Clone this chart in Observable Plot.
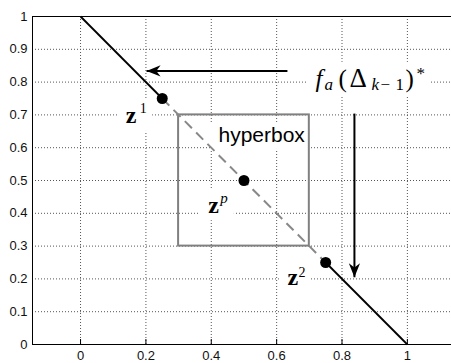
<!DOCTYPE html>
<html>
<head>
<meta charset="utf-8">
<script src="https://cdn.jsdelivr.net/npm/d3@7"></script>
<script src="https://cdn.jsdelivr.net/npm/@observablehq/plot@0.6"></script>
<style>
  body { margin: 0; background: #fff; }
  svg { display: block; }
</style>
</head>
<body>
<script>
// Axis ticks and visible domain
const xTicks = [0, 0.2, 0.4, 0.6, 0.8, 1];
const yTicks = [0, 0.1, 0.2, 0.3, 0.4, 0.5, 0.6, 0.7, 0.8, 0.9, 1];
const xDomain = [-0.147, 1.135];
const yDomain = [0, 1];

// Linear front f1 + f2 = 1: vertices of the solid and dashed pieces
const frontX = [0, 0.25, 0.75, 1];
const frontY = [1, 0.75, 0.25, 0];

// Anchor points z^1, z^p, z^2
const pointNames = ["z1", "zp", "z2"];
const pointX = [0.25, 0.5, 0.75];
const pointY = [0.75, 0.5, 0.25];

// Hyperbox around z^p
const boxX = [0.3, 0.7];
const boxY = [0.3, 0.7];
const boxText = "hyperbox";
const boxTextX = 0.422;
const boxTextY = 0.616;

// Arrows (tail -> head)
const arrowX1 = [0.633, 0.838];
const arrowY1 = [0.834, 0.704];
const arrowX2 = [0.202, 0.838];
const arrowY2 = [0.834, 0.205];

// Math labels (baseline-left anchor)
const labelKeys = ["z1", "zp", "z2", "fa"];
const labelX = [0.138, 0.391, 0.633, 0.719];
const labelY = [0.674, 0.402, 0.180, 0.784];

// Typeset pieces for each math label: offsets in px from the anchor
const mathPieces = {
  z1: [{t: "z", x: 0, y: 0, size: 24, bold: true}, {t: "1", x: 14, y: -10, size: 14}],
  zp: [{t: "z", x: 0, y: 0, size: 24, bold: true}, {t: "p", x: 12, y: -9.5, size: 15, italic: true}],
  z2: [{t: "z", x: 0, y: 0, size: 24, bold: true}, {t: "2", x: 11, y: -8, size: 14}],
  fa: [
    {t: "f", x: 0, y: 0, size: 25, italic: true},
    {t: "a", x: 9, y: 3, size: 17, italic: true},
    {t: "(", x: 23, y: 0, size: 25},
    {t: "\u0394", x: 34, y: 0, size: 27},
    {t: "k", x: 56, y: 3, size: 17, italic: true},
    {t: "\u2212", x: 65, y: 3, size: 17},
    {t: "1", x: 80, y: 3, size: 17},
    {t: ")", x: 90, y: 0, size: 25},
    {t: "*", x: 101, y: -8, size: 17}
  ]
};

// Derived tables
const solidSegments = [
  {x1: frontX[0], y1: frontY[0], x2: frontX[1], y2: frontY[1]},
  {x1: frontX[2], y1: frontY[2], x2: frontX[3], y2: frontY[3]}
];
const dashedSegments = [{x1: frontX[1], y1: frontY[1], x2: frontX[2], y2: frontY[2]}];
const points = pointNames.map((name, i) => ({name, x: pointX[i], y: pointY[i]}));
const arrows = arrowX1.map((x1, i) => ({
  x1, y1: arrowY1[i], x2: arrowX2[i], y2: arrowY2[i],
  angle: Math.atan2(arrowX2[i] - x1, arrowY2[i] - arrowY1[i]) * 180 / Math.PI
}));
const labels = labelKeys.map((key, i) => ({key, x: labelX[i], y: labelY[i]}));
const box = [{x1: boxX[0], x2: boxX[1], y1: boxY[0], y2: boxY[1]}];

// Filled, notched arrowhead with its tip at the origin, pointing up
const arrowHead = {
  draw(context, size) {
    const L = Math.sqrt(size / Math.PI);
    const w = L * 0.4, n = L * 0.7;
    context.moveTo(0, 0);
    context.lineTo(w, L);
    context.lineTo(0, n);
    context.lineTo(-w, L);
    context.closePath();
  }
};

const gridStyle = {stroke: "#555", strokeWidth: 1, strokeDasharray: "1,2", className: "grid"};

const chart = Plot.plot({
  width: 451,
  height: 363,
  marginLeft: 32,
  marginRight: 0,
  marginTop: 16,
  marginBottom: 19,
  style: {fontFamily: "'Liberation Sans', Arial, sans-serif", fontSize: "13px", color: "#111", background: "#fff"},
  x: {domain: xDomain, label: null},
  y: {domain: yDomain, label: null},
  marks: [
    Plot.ruleX(xTicks, gridStyle),
    Plot.ruleY(yTicks, gridStyle),
    Plot.rect(box, {x1: "x1", x2: "x2", y1: "y1", y2: "y2", fill: "none", stroke: "#808080", strokeWidth: 2}),
    Plot.link(dashedSegments, {x1: "x1", y1: "y1", x2: "x2", y2: "y2", stroke: "#888", strokeWidth: 2, strokeDasharray: "10,6"}),
    Plot.link(solidSegments, {x1: "x1", y1: "y1", x2: "x2", y2: "y2", stroke: "#000", strokeWidth: 1.8}),
    Plot.dot(points, {x: "x", y: "y", r: 5.5, fill: "#000", stroke: "none"}),
    Plot.link(arrows, {x1: "x1", y1: "y1", x2: "x2", y2: "y2", stroke: "#000", strokeWidth: 2}),
    Plot.dot(arrows, {x: "x2", y: "y2", r: 14, symbol: arrowHead, rotate: "angle", fill: "#000", stroke: "none"}),
    Plot.text([boxText], {x: () => boxTextX, y: () => boxTextY, text: d => d, textAnchor: "start", lineAnchor: "bottom",
      fontSize: 21, fill: "#000", className: "lbl"}),
    Plot.text(labels, {x: "x", y: "y", text: "key", textAnchor: "start", lineAnchor: "bottom",
      fontFamily: "'Liberation Serif', 'Times New Roman', serif", fontSize: 24, fill: "#000", className: "math"}),
    Plot.axisX({ticks: xTicks, tickSize: 0, tickPadding: 6, tickFormat: d => String(d), fill: "#111"}),
    Plot.axisY({ticks: yTicks, tickSize: 0, tickPadding: 5, tickFormat: d => String(d), fill: "#111"}),
    Plot.tickX(xTicks, {x: d => d, stroke: "#000", strokeWidth: 1, insetTop: 323, insetBottom: 0}),
    Plot.ruleY([yDomain[0], yDomain[1]], {stroke: "#000", strokeWidth: 1}),
    Plot.ruleX([xDomain[0]], {stroke: "#000", strokeWidth: 1})
  ]
});

document.body.append(chart);

// Typeset the math labels with tspans
const svgns = "http://www.w3.org/2000/svg";
d3.select(chart).selectAll("g.math text").each(function(d, i) {
  const key = labelKeys[typeof d === "number" ? d : i];
  const el = this;
  el.textContent = "";
  el.removeAttribute("y");
  for (const p of mathPieces[key]) {
    const ts = document.createElementNS(svgns, "tspan");
    ts.setAttribute("x", p.x);
    ts.setAttribute("y", p.y);
    ts.setAttribute("font-size", p.size);
    if (p.italic) ts.setAttribute("font-style", "italic");
    if (p.bold) ts.setAttribute("font-weight", "bold");
    ts.textContent = p.t;
    el.append(ts);
  }
});

// White backgrounds behind the text labels, drawn just above the grid
const grids = chart.querySelectorAll("g.grid");
const bg = document.createElementNS(svgns, "g");
bg.setAttribute("fill", "#fff");
grids[grids.length - 1].after(bg);
d3.select(chart).selectAll("g.math text, g.lbl text").each(function() {
  const b = this.getBBox();
  const r = document.createElementNS(svgns, "rect");
  r.setAttribute("x", b.x - 8);
  r.setAttribute("y", b.y - 1);
  r.setAttribute("width", b.width + 14);
  r.setAttribute("height", b.height + 4);
  const t = this.getAttribute("transform");
  if (t) r.setAttribute("transform", t);
  bg.append(r);
});
</script>
</body>
</html>
